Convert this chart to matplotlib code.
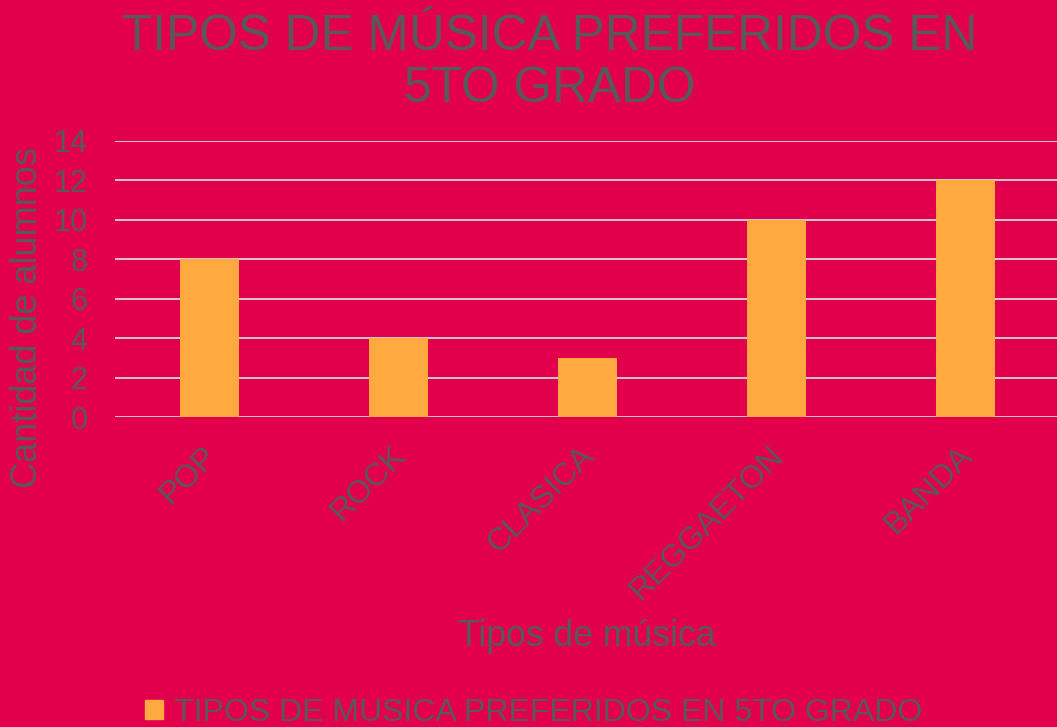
import numpy as np
import matplotlib
matplotlib.use("Agg")
from matplotlib import pyplot as plt
from matplotlib.patches import Patch
from matplotlib.transforms import ScaledTranslation

# donnees du graphique
categorias = ["POP", "ROCK", "CLASICA", "REGGAETON", "BANDA"]
alumnos = [8, 4, 3, 10, 12]
serie = "TIPOS DE MUSICA PREFERIDOS EN 5TO GRADO"
titulo = "TIPOS DE MÚSICA PREFERIDOS EN\n5TO GRADO"

fondo = "#E2004C"
barra = "#FFA940"
gris = "#595959"

plt.rcParams['font.family'] = ['Liberation Sans', 'DejaVu Sans']

fig = plt.figure(figsize=(10.57, 7.27), dpi=100, facecolor=fondo)
ax = fig.add_axes([0.109, 0.4264, 0.894, 0.3797])
ax.set_facecolor(fondo)

x = np.arange(len(categorias))
ax.bar(x, alumnos, width=0.31, color=barra, zorder=3)

ax.set_xlim(-0.5, len(categorias) - 0.5)
ax.set_ylim(0, 14)
ax.set_yticks(range(0, 15, 2))
ax.grid(axis="y", color="#D9D9D9", linewidth=1.3, zorder=0)
for s in ax.spines.values():
    s.set_visible(False)

ax.set_xticks(x)
ax.set_xticklabels(categorias, rotation=45, ha="right")
ax.tick_params(axis="x", length=0, pad=17, labelsize=23, labelcolor=gris)
ax.tick_params(axis="y", length=0, pad=20, labelsize=22, labelcolor=gris)
decal = ScaledTranslation(0.13, 0, fig.dpi_scale_trans)
for t in ax.get_xticklabels():
    t.set_transform(t.get_transform() + decal)

ax.set_ylabel("Cantidad de alumnos", fontsize=26, color=gris)
ax.yaxis.set_label_coords(-0.074, 0.362)

fig.text(0.555, 1 - 636 / 727, "Tipos de música", fontsize=25.7, color=gris,
         ha="center", va="center")
fig.text(0.52, 1 - 63 / 727, titulo, fontsize=35.7, color=gris, ha="center",
         va="center", linespacing=1.15)

leg = fig.legend(handles=[Patch(color=barra, label=serie)], loc="center",
                 bbox_to_anchor=(0.505, 1 - 713 / 727), frameon=False, fontsize=23,
                 labelcolor=gris, handlelength=0.55, handleheight=0.55, handletextpad=0.35)

fig.savefig("out.png", dpi=100, facecolor=fondo)
